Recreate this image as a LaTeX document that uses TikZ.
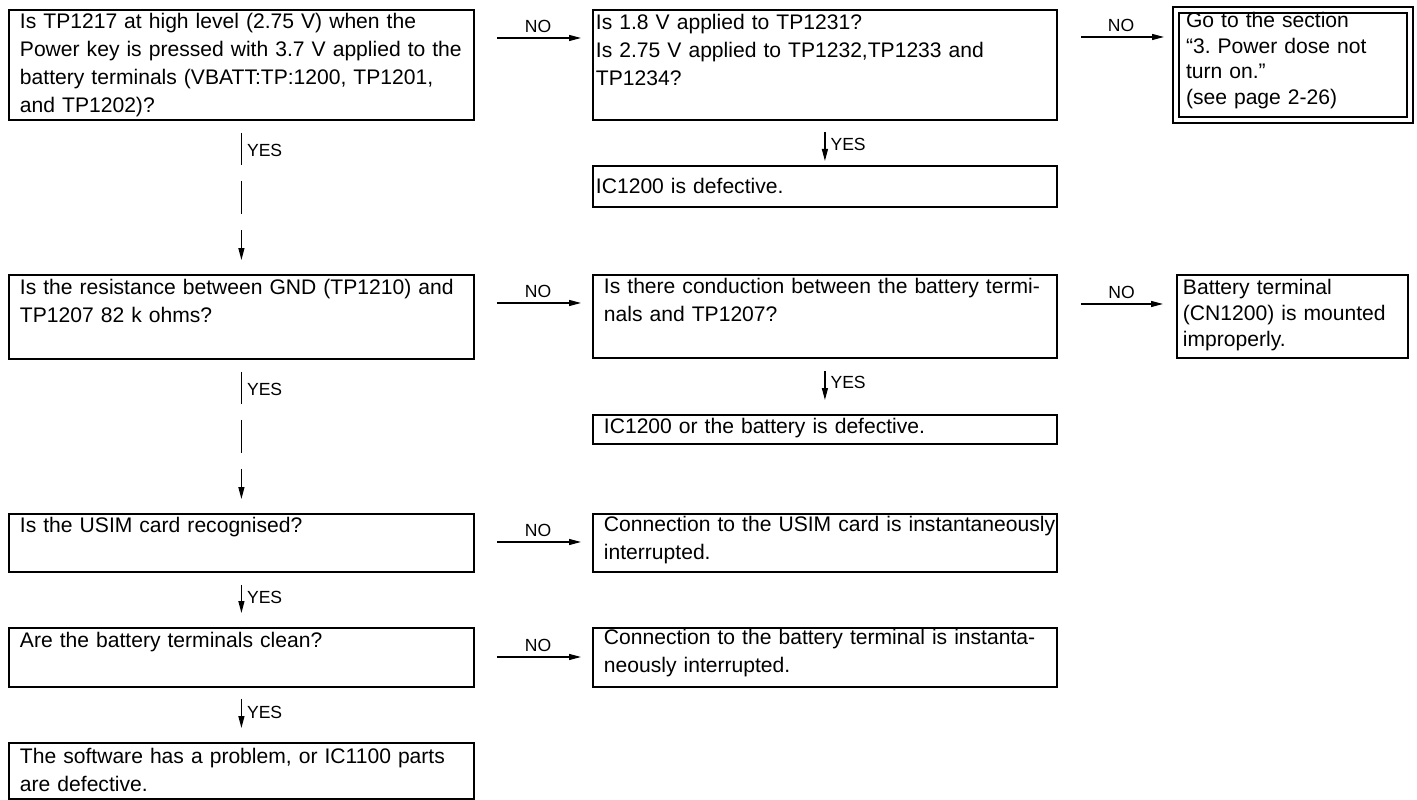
\documentclass[tikz,border=0pt]{standalone}
\usepackage{fontspec}
\setmainfont{Liberation Sans}
\usetikzlibrary{arrows.meta}
\hyphenpenalty=10000
\frenchspacing

\begin{document}
\begin{tikzpicture}[x=0.02cm,y=-0.02cm,
  >={Triangle[length=0.24cm,width=0.12cm]},
  box/.style={draw,line width=1.1pt,anchor=north west,inner ysep=0pt,align=left,font=\fontsize{12}{15.9}\selectfont},
  hd/.style 2 args={text height=#1,text depth=#2},
  wide/.style={box,inner xsep=0.22cm,text width=8.86cm},
  mid/.style={box,inner xsep=0.22cm,text width=8.84cm},
  tight/.style={box,inner xsep=0.06cm,text width=9.16cm},
  side/.style={box,inner xsep=0.12cm,text width=4.38cm,font=\fontsize{12}{14.7}\selectfont},
  goto/.style={box,double,double distance=0.08cm,line width=0.04cm,inner xsep=0.2cm,text width=4.28cm,font=\fontsize{12}{14.5}\selectfont},
  lbl/.style={font=\fontsize{10}{12}\selectfont,inner sep=0.1cm},
  no/.style={->,line width=0.7pt,shorten <=0.44cm,shorten >=0.22cm},
  yes/.style={->,line width=0.7pt},
  brk/.style={dash pattern=on 0.64cm off 0.32cm on 0.66cm off 0.32cm on 3cm}]
 \useasboundingbox (0,0) rectangle (1417,800);

 \node[wide,hd={0.38cm}{1.82cm}] (q1) at (8,9) {Is TP1217 at high level (2.75 V) when the\\Power key is pressed with 3.7 V applied to the\\battery terminals (VBATT:TP:1200, TP1201,\\and TP1202)?};
 \node[tight,hd={0.40cm}{1.80cm}] (q2) at (592,9) {Is 1.8 V applied to TP1231?\\Is 2.75 V applied to TP1232,TP1233 and\\TP1234?};
 \node[goto,hd={0.36cm}{1.84cm}] (go) at (1175,9) {Go to the section\\“3. Power dose not\\turn on.”\\(see page 2-26)};
 \node[tight,hd={0.56cm}{0.26cm}] (r1) at (592,165) {IC1200 is defective.};

 \node[wide,hd={0.40cm}{1.28cm}] (q3) at (8,274) {Is the resistance between GND (TP1210) and\\TP1207 82 k ohms?};
 \node[mid,hd={0.38cm}{1.28cm}] (q4) at (592,274) {Is there conduction between the battery termi-\\nals and TP1207?};
 \node[side,hd={0.40cm}{1.26cm}] (r3) at (1176,274) {Battery terminal\\(CN1200) is mounted\\improperly.};
 \node[mid,hd={0.38cm}{0.20cm}] (r2) at (592,414) {IC1200 or the battery is defective.};

 \node[wide,hd={0.38cm}{0.78cm}] (q5) at (8,513) {Is the USIM card recognised?};
 \node[mid,hd={0.36cm}{0.80cm}] (r4) at (592,513) {\mbox{Connection to the USIM card is instantaneously}\\interrupted.};
 \node[wide,hd={0.40cm}{0.78cm}] (q6) at (8,627) {Are the battery terminals clean?};
 \node[mid,hd={0.34cm}{0.84cm}] (r5) at (592,627) {Connection to the battery terminal is instanta-\\neously interrupted.};
 \node[wide,hd={0.42cm}{0.70cm}] (r6) at (8,742) {The software has a problem, or IC1100 parts\\are defective.};

 \draw[no] ([yshift=-0.58cm]q1.north east) -- node[above,lbl,pos=0.54] (n1) {NO} ([yshift=-0.58cm]q2.north west);
 \draw[no,shorten <=0.46cm] ([yshift=-0.56cm]q2.north east) -- node[above,lbl,pos=0.54] (n2) {NO} ([yshift=-0.56cm]go.north west);
 \draw[no] ([yshift=-0.58cm]q3.north east) -- node[above,lbl,pos=0.54] (n3) {NO} ([yshift=-0.58cm]q4.north west);
 \draw[no,shorten <=0.46cm,shorten >=0.26cm] ([yshift=-0.60cm]q4.north east) -- node[above,lbl,pos=0.54] (n4) {NO} ([yshift=-0.60cm]r3.north west);
 \draw[no] ([yshift=-0.58cm]q5.north east) -- node[above,lbl,pos=0.54] (n5) {NO} ([yshift=-0.58cm]r4.north west);
 \draw[no] ([yshift=-0.60cm]q6.north east) -- node[above,lbl,pos=0.54] (n6) {NO} ([yshift=-0.60cm]r5.north west);

 \draw[yes,brk,shorten <=0.24cm,shorten >=0.28cm] (q1.south) -- node[right,lbl,pos=0.19] (y1) {YES} (q3.north);
 \draw[yes,brk,shorten <=0.24cm,shorten >=0.28cm] (q3.south) -- node[right,lbl,pos=0.19] (y2) {YES} (q5.north);
 \draw[yes,shorten <=0.24cm,shorten >=0.28cm] (q5.south) -- node[right,lbl,pos=0.45] (y3) {YES} (q6.north);
 \draw[yes,shorten <=0.22cm,shorten >=0.28cm] (q6.south) -- node[right,lbl,pos=0.45] (y4) {YES} (r6.north);
 \draw[yes,shorten <=0.22cm,shorten >=0.08cm] (q2.south) -- node[right,lbl,pos=0.54] (y5) {YES} (r1.north);
 \draw[yes,shorten <=0.24cm,shorten >=0.28cm] (q4.south) -- node[right,lbl,pos=0.42] (y6) {YES} (r2.north);
\end{tikzpicture}
\end{document}
